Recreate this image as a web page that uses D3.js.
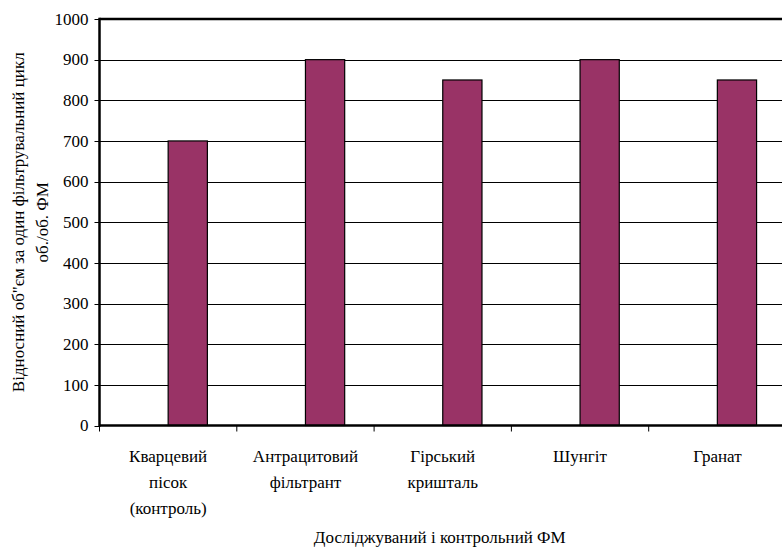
<!DOCTYPE html>
<html><head><meta charset="utf-8">
<script src="https://cdn.jsdelivr.net/npm/d3@7/dist/d3.min.js"></script>
</head>
<body style="margin:0"><svg id="c" width="782" height="554"></svg>
<script>
const categories = [["Кварцевий","пісок","(контроль)"],["Антрацитовий","фільтрант"],["Гірський","кришталь"],["Шунгіт"],["Гранат"]];
const values = [700, 900, 850, 900, 850];
const yTicks = [0,100,200,300,400,500,600,700,800,900,1000];
const yTitle = ["Відносний об\"єм за один фільтрувальний цикл","об./об. ФМ"];
const xTitle = "Досліджуваний і контрольний ФМ";

const FONT = '"Liberation Serif"';
const svg = d3.select("#c");
const L = 99.5, R = 786, T = 19, B = 425.5;
const keys = categories.map((c,i)=>i);
const x = d3.scaleBand().domain(keys).range([L,R]).padding(0);
const y = d3.scaleLinear().domain([0,1000]).range([B,T]);
const bw = x.bandwidth();
const fmt = d3.format("d");

// gridlines
svg.append("g").selectAll("line").data(yTicks.filter(d=>d>0 && d<1000)).join("line")
  .attr("x1",L).attr("x2",R).attr("y1",d=>Math.round(y(d))+0.5).attr("y2",d=>Math.round(y(d))+0.5)
  .attr("stroke","#000").attr("stroke-width",1);

// bars
svg.append("g").selectAll("rect").data(values).join("rect")
  .attr("x",(d,i)=>x(i)+bw*0.5)
  .attr("width",bw/3.5)
  .attr("y",d=>y(d))
  .attr("height",d=>B-y(d))
  .attr("fill","#993366").attr("stroke","#000").attr("stroke-width",1.2);

// y ticks and labels from the scale
const gy = svg.append("g");
gy.selectAll("line").data(yTicks).join("line")
  .attr("x1",L-5).attr("x2",L).attr("y1",d=>Math.round(y(d))+0.5).attr("y2",d=>Math.round(y(d))+0.5)
  .attr("stroke","#000").attr("stroke-width",1);
gy.selectAll("text").data(yTicks).join("text")
  .attr("x",L-11).attr("y",d=>y(d)).attr("dy","0.34em").attr("text-anchor","end").text(d=>fmt(d));

// x axis ticks at band boundaries
const xb = d3.scaleLinear().domain([0,5]).range([L,R]);
svg.append("g").selectAll("line").data([0,1,2,3,4]).join("line")
  .attr("x1",d=>xb(d)).attr("x2",d=>xb(d)).attr("y1",B).attr("y2",B+6)
  .attr("stroke","#000").attr("stroke-width",1);

// frame lines
svg.append("line").attr("x1",L).attr("x2",R).attr("y1",T).attr("y2",T).attr("stroke","#000").attr("stroke-width",2.5);
svg.append("line").attr("x1",L).attr("x2",R).attr("y1",B).attr("y2",B).attr("stroke","#000").attr("stroke-width",2.5);
svg.append("line").attr("x1",L).attr("x2",L).attr("y1",T-1.2).attr("y2",B+1.2).attr("stroke","#000").attr("stroke-width",2.5);

// category labels
const cg = svg.append("g").selectAll("text").data(categories).join("text")
  .attr("text-anchor","middle")
  .attr("transform",(d,i)=>`translate(${x(i)+bw/2},462)`);
cg.selectAll("tspan").data(d=>d).join("tspan").attr("x",0).attr("y",(d,j)=>j*26).text(d=>d);

// x title
svg.append("text").attr("x",(L+R)/2-3).attr("y",543).attr("text-anchor","middle").text(xTitle);

// y title
const yt = svg.append("text").attr("transform",`translate(0,${(T+B)/2}) rotate(-90)`).attr("text-anchor","middle");
yt.selectAll("tspan").data(yTitle).join("tspan").attr("x",0).attr("y",(d,j)=>24+j*24).text(d=>d);

svg.selectAll("text").style("font-family",FONT).style("font-size","17px").style("fill","#000");
</script></body></html>
